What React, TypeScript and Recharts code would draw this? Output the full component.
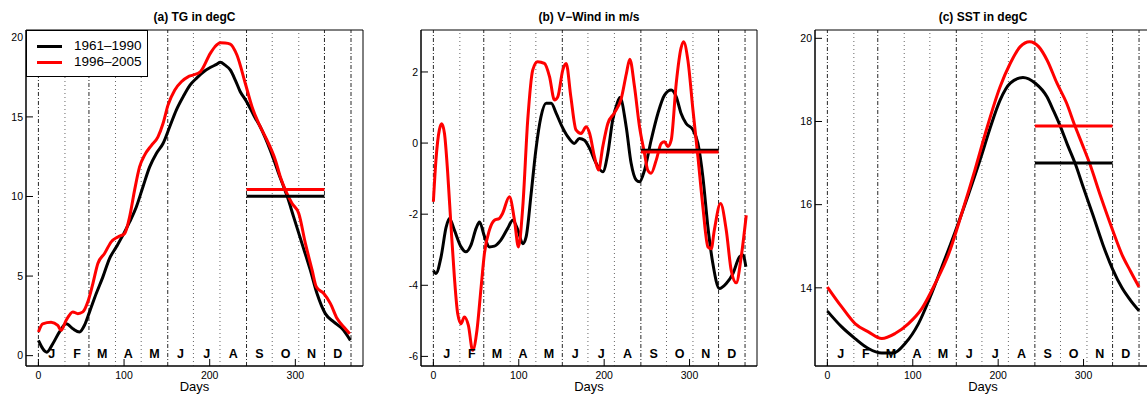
import React from 'react';
import { LineChart, Line, XAxis, YAxis, ReferenceLine, ReferenceArea, Label } from 'recharts';

const FONT = '"Liberation Sans", Arial, Helvetica, sans-serif';
const RED = '#ff0000';
const BLACK = '#000000';

// shared x layout (day of year)
const X_DOMAIN: [number, number] = [-14.5, 379];
const xTicks = [0, 100, 200, 300];
const monthNames = ['J', 'F', 'M', 'A', 'M', 'J', 'J', 'A', 'S', 'O', 'N', 'D'];
const monthMids = [15.5, 45, 74.5, 105, 135.5, 166, 196.5, 227.5, 258, 288.5, 319, 349.5];
const seasonBounds = [0, 59, 151, 243, 334, 365];
const monthBounds = [31, 90, 120, 181, 212, 273, 304];
const SON: [number, number] = [243, 334];

// (a) TG in degC
const tgOldDays = [0, 9.8, 16.8, 24.6, 32.4, 40.2, 48, 53.8, 59.7, 67.5, 75.3, 83, 90.9, 98.7, 106.5, 114.3, 122, 129.9, 137.7, 145.5, 153.3, 161, 169, 177, 185, 193, 200.6, 208, 212.4, 218, 224, 230, 235.7, 241.5, 247.4, 253, 259, 264.8, 270.7, 275.6, 280.5, 285.4, 290.3, 298, 307.8, 317.5, 325.3, 335, 344.8, 354.5, 364.3];
const tgOldVals = [0.96, 0.22, 0.75, 1.49, 2.0, 1.69, 1.49, 1.91, 2.75, 3.9, 4.95, 6.1, 6.83, 7.57, 8.4, 9.34, 10.6, 11.86, 12.7, 13.33, 14.38, 15.43, 16.27, 17.0, 17.45, 17.84, 18.1, 18.3, 18.43, 18.25, 17.95, 17.3, 16.58, 16.1, 15.53, 14.95, 14.38, 13.7, 12.91, 12.2, 11.45, 10.75, 10.04, 8.72, 7.04, 5.37, 3.9, 2.64, 2.12, 1.7, 0.96];
const tgNewDays = [0, 5, 14.8, 22.6, 26.5, 32.4, 40.2, 46, 51.9, 57.7, 63.6, 69.4, 77.2, 85, 92.8, 100.6, 106.5, 112.3, 118.1, 124, 131.8, 139.6, 145.5, 151.3, 159.1, 166.9, 174.7, 180.5, 189, 200.7, 206, 212.4, 218, 224, 231.8, 241.6, 249.4, 257.2, 266.9, 276.7, 282.5, 288.4, 296.2, 304, 311.8, 319.6, 324.6, 333.2, 341, 348.8, 356.6, 363.6];
const tgNewVals = [1.49, 2.0, 2.1, 1.9, 1.59, 2.22, 2.75, 2.64, 2.75, 3.38, 4.53, 5.79, 6.42, 7.15, 7.46, 7.67, 8.72, 10.4, 11.86, 12.6, 13.2, 13.75, 14.59, 15.74, 16.68, 17.21, 17.52, 17.63, 17.83, 18.99, 19.4, 19.66, 19.65, 19.58, 18.89, 17.1, 15.64, 14.59, 13.54, 12.28, 11.23, 10.4, 9.56, 8.93, 7.04, 5.37, 4.31, 3.9, 3.27, 2.33, 1.8, 1.38];
const tgMeans = { old: 10.02, new: 10.44 };

// (b) V-Wind in m/s
const vOldDays = [0, 3, 9, 15, 18.75, 24.6, 32.4, 38, 44, 50, 54, 60, 65.6, 71.5, 79, 87, 93, 99, 104.7, 108.6, 114.5, 120, 126, 132, 138, 143.75, 150, 157.4, 165, 171, 177, 183, 190.6, 198.4, 204.3, 210, 215, 218.5, 225.8, 231.6, 237.5, 241.4, 247.3, 255, 263, 270.7, 278.5, 284.4, 290, 296, 304, 309.8, 315.6, 321.5, 327.3, 335, 343, 350.8, 358.6, 362.5, 366];
const vOldVals = [-3.58, -3.67, -3.2, -2.36, -2.12, -2.45, -2.92, -3.06, -2.87, -2.4, -2.22, -2.64, -2.92, -2.9, -2.73, -2.4, -2.17, -2.45, -2.83, -2.64, -1.42, -0.2, 0.74, 1.12, 1.12, 0.84, 0.5, 0.18, -0.01, 0.13, 0.08, -0.15, -0.57, -0.81, -0.29, 0.65, 1.1, 1.28, 0.46, -0.57, -1.04, -1.09, -0.76, 0.08, 0.84, 1.35, 1.49, 1.3, 0.84, 0.55, 0.37, -0.01, -0.95, -2.36, -3.39, -4.09, -3.95, -3.67, -3.2, -3.15, -3.48];
const vNewDays = [0, 3, 7, 9.8, 13, 16.8, 20.7, 24.6, 28.5, 32.4, 36.3, 41, 46, 51, 55.9, 59.8, 65.6, 71.5, 77.3, 81, 89, 95, 99.6, 104.7, 110.5, 116.4, 122, 130, 136, 141.8, 145.7, 151.6, 155.5, 161, 167, 173, 179, 183, 188.7, 193.4, 198.4, 204.3, 212, 220, 226, 230, 235.5, 241.4, 247.3, 251, 255, 261, 266.8, 270.7, 274.6, 278.5, 284.4, 290, 293, 298, 304, 309.8, 315.6, 321.5, 325.4, 329, 336.3, 343, 348.8, 354.7, 360.5, 366.4];
const vNewVals = [-1.65, -0.48, 0.37, 0.54, 0.27, -0.85, -2.36, -3.77, -4.8, -5.08, -4.89, -5.13, -5.83, -5.27, -4.05, -3.1, -2.45, -2.17, -2.12, -1.98, -1.51, -2.17, -2.92, -1.79, 0.65, 2.06, 2.29, 2.24, 1.87, 1.21, 1.3, 2.06, 2.24, 1.3, 0.37, 0.27, 0.46, 0.27, -0.39, -0.76, -0.1, 0.55, 0.85, 1.25, 1.95, 2.36, 1.59, 0.46, -0.29, -0.76, -0.85, -0.48, -0.01, 0.04, -0.1, 0.08, 1.68, 2.67, 2.85, 2.34, 0.93, -0.39, -1.79, -2.92, -2.97, -2.45, -1.7, -2.45, -3.58, -3.93, -3.2, -2.03];
const vMeans = { old: -0.2, new: -0.25 };

// (c) SST in degC
const sstOldDays = [0, 16.8, 32.4, 48, 63.7, 77.4, 91, 106.7, 120.4, 134, 149.7, 165.3, 180, 190.7, 202.4, 214.2, 229, 243.5, 257, 265, 272.7, 281, 290, 300, 311, 322.5, 334, 345, 355, 365];
const sstOldVals = [13.44, 13.06, 12.78, 12.54, 12.43, 12.43, 12.66, 13.14, 13.78, 14.5, 15.35, 16.25, 17.15, 17.85, 18.52, 18.92, 19.06, 18.92, 18.6, 18.25, 17.89, 17.45, 17.0, 16.4, 15.75, 15.05, 14.45, 14.0, 13.7, 13.45];
const sstNewDays = [0, 16.8, 32.4, 48, 63.7, 79.3, 95, 110.6, 126.2, 141.8, 157.5, 173, 184.8, 202.4, 214.2, 225.9, 236.9, 247.4, 257.2, 268.9, 280, 290, 298.5, 307, 320, 334, 345, 355, 365];
const sstNewVals = [14.02, 13.54, 13.14, 12.94, 12.78, 12.9, 13.14, 13.5, 14.1, 14.8, 15.8, 16.85, 17.7, 18.84, 19.4, 19.8, 19.92, 19.8, 19.48, 18.92, 18.45, 17.89, 17.45, 17.0, 16.2, 15.39, 14.8, 14.4, 14.02];
const sstMeans = { old: 17.0, new: 17.89 };

const toPoints = (days: number[], vals: number[]) => days.map((d, i) => ({ day: d, v: vals[i] }));

interface PanelProps {
  title: string;
  left: number;
  yWidth: number;
  yDomain: [number, number];
  yTicks: number[];
  oldDays: number[];
  oldVals: number[];
  newDays: number[];
  newVals: number[];
  means: { old: number; new: number };
  showLegend?: boolean;
}

const CHART_W = 394;
const CHART_H = 396;
const MARGIN = { top: 30, right: 31, bottom: 0, left: 0 };

const Panel = ({ title, left, yWidth, yDomain, yTicks, oldDays, oldVals, newDays, newVals, means, showLegend }: PanelProps) => {
  const plotW = CHART_W - MARGIN.right - yWidth;
  return (
    <div style={{ position: 'absolute', left, top: 0, width: CHART_W, height: CHART_H }}>
      <LineChart width={CHART_W} height={CHART_H} margin={MARGIN}>
        <XAxis
          type="number"
          dataKey="day"
          domain={X_DOMAIN}
          allowDataOverflow
          ticks={xTicks}
          interval={0}
          height={30}
          tickSize={-7}
          tickMargin={13}
          axisLine={{ stroke: BLACK }}
          tickLine={{ stroke: BLACK }}
          tick={{ fill: BLACK, fontSize: 10.5 }}
        >
          <Label value="Days" position="insideBottom" offset={5} style={{ fontSize: 13, fill: BLACK }} />
        </XAxis>
        <YAxis
          type="number"
          domain={yDomain}
          allowDataOverflow
          ticks={yTicks}
          interval={0}
          width={yWidth}
          tickSize={-7}
          tickMargin={10}
          axisLine={{ stroke: BLACK }}
          tickLine={{ stroke: BLACK }}
          tick={{ fill: BLACK, fontSize: 10.5 }}
        />
        {seasonBounds.map((d) => (
          <ReferenceLine key={'s' + d} x={d} stroke="#111" strokeWidth={0.9} strokeDasharray="4 2 1 2" />
        ))}
        {monthBounds.map((d) => (
          <ReferenceLine key={'m' + d} x={d} stroke="#555" strokeWidth={0.9} strokeDasharray="1 3" />
        ))}
        {monthMids.map((d, i) => (
          <ReferenceLine
            key={'l' + i}
            x={d}
            stroke="none"
            label={{ value: monthNames[i], position: 'insideBottom', offset: 8, fontSize: 12.5, fontWeight: 'bold', fill: BLACK }}
          />
        ))}
        <ReferenceArea
          x1={X_DOMAIN[0]}
          x2={X_DOMAIN[1]}
          y1={yDomain[0]}
          y2={yDomain[1]}
          fill="none"
          stroke={BLACK}
          strokeWidth={1}
          ifOverflow="visible"
        />
        <Line
          data={toPoints(oldDays, oldVals)}
          dataKey="v"
          type="monotone"
          stroke={BLACK}
          strokeWidth={3}
          dot={false}
          isAnimationActive={false}
        />
        <Line
          data={toPoints(newDays, newVals)}
          dataKey="v"
          type="monotone"
          stroke={RED}
          strokeWidth={3}
          dot={false}
          isAnimationActive={false}
        />
        <ReferenceLine
          segment={[{ x: SON[0], y: means.old }, { x: SON[1], y: means.old }]}
          stroke={BLACK}
          strokeWidth={3}
        />
        <ReferenceLine
          segment={[{ x: SON[0], y: means.new }, { x: SON[1], y: means.new }]}
          stroke={RED}
          strokeWidth={3}
        />
      </LineChart>
      <div
        style={{
          position: 'absolute',
          left: yWidth,
          top: 9,
          width: plotW,
          textAlign: 'center',
          fontWeight: 'bold',
          fontSize: 12,
          lineHeight: '16px',
        }}
      >
        {title}
      </div>
      {showLegend && (
        <div
          style={{
            position: 'absolute',
            left: yWidth,
            top: 30,
            width: 122,
            height: 47,
            boxSizing: 'border-box',
            border: '1px solid #000',
            background: '#fff',
            fontSize: 13.5,
          }}
        >
          {[
            { label: '1961–1990', color: BLACK, y: 15 },
            { label: '1996–2005', color: RED, y: 31 },
          ].map((it) => (
            <div key={it.label} style={{ position: 'absolute', left: 10, top: it.y - 8, height: 16, display: 'flex', alignItems: 'center' }}>
              <div style={{ width: 25, height: 3, background: it.color }} />
              <span style={{ marginLeft: 12, lineHeight: '16px' }}>{it.label}</span>
            </div>
          ))}
        </div>
      )}
    </div>
  );
};

export default function App() {
  return (
    <div
      style={{
        position: 'fixed',
        left: 0,
        top: 0,
        width: 1147,
        height: 396,
        overflow: 'hidden',
        background: '#fff',
        fontFamily: FONT,
        color: BLACK,
      }}
    >
      <Panel
        title="(a) TG in degC"
        left={0}
        yWidth={26}
        yDomain={[-0.65, 20.46]}
        yTicks={[0, 5, 10, 15, 20]}
        oldDays={tgOldDays}
        oldVals={tgOldVals}
        newDays={tgNewDays}
        newVals={tgNewVals}
        means={tgMeans}
        showLegend
      />
      <Panel
        title="(b) V−Wind in m/s"
        left={394}
        yWidth={27}
        yDomain={[-6.27, 3.18]}
        yTicks={[-6, -4, -2, 0, 2]}
        oldDays={vOldDays}
        oldVals={vOldVals}
        newDays={vNewDays}
        newVals={vNewVals}
        means={vMeans}
      />
      <Panel
        title="(c) SST in degC"
        left={788}
        yWidth={27}
        yDomain={[12.12, 20.2]}
        yTicks={[14, 16, 18, 20]}
        oldDays={sstOldDays}
        oldVals={sstOldVals}
        newDays={sstNewDays}
        newVals={sstNewVals}
        means={sstMeans}
      />
    </div>
  );
}
